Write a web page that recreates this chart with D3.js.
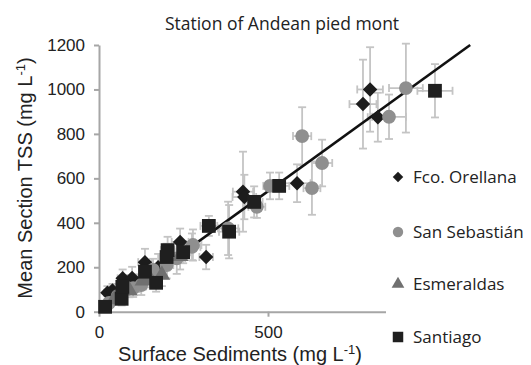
<!DOCTYPE html>
<html>
<head>
  <script src="https://d3js.org/d3.v7.min.js"></script>
  <style>
    body { margin: 0; background: #fff; }
    svg { display: block; }
  </style>
</head>
<body>
  <svg id="chart" width="531" height="365"></svg>
  <script>
    // data
    const seriesNames = ['Fco. Orellana', 'San Sebastián', 'Esmeraldas', 'Santiago'];

    const orellanaX    = [25, 40, 70, 98, 112, 136, 175, 240, 317, 426, 430, 586, 781, 802, 825];
    const orellanaY    = [85, 95, 150, 152, 128, 223, 200, 314, 246, 540, 516, 578, 934, 1000, 875];
    const orellanaXErr = [10, 10, 15, 15, 15, 20, 20, 25, 20, 30, 35, 40, 40, 38, 30];
    const orellanaYErr = [30, 30, 40, 50, 40, 60, 60, 60, 55, 180, 100, 85, 200, 190, 110];

    const sebastianX    = [30, 55, 101, 125, 160, 200, 230, 275, 278, 382, 467, 506, 601, 630, 660, 858, 908];
    const sebastianY    = [40, 70, 106, 120, 188, 210, 240, 292, 300, 375, 472, 566, 790, 556, 669, 877, 1006];
    const sebastianXErr = [10, 12, 15, 15, 20, 20, 25, 25, 25, 30, 25, 20, 27, 25, 30, 50, 50];
    const sebastianYErr = [25, 30, 40, 45, 50, 60, 70, 60, 70, 120, 50, 60, 130, 120, 105, 100, 200];

    const esmeraldasX    = [45, 90, 130, 150, 186, 240];
    const esmeraldasY    = [55, 95, 140, 150, 165, 250];
    const esmeraldasXErr = [10, 10, 15, 15, 15, 20];
    const esmeraldasYErr = [20, 30, 40, 40, 50, 60];

    const santiagoX    = [18, 67, 69, 136, 169, 200, 203, 249, 325, 385, 459, 533, 994];
    const santiagoY    = [22, 58, 112, 180, 130, 246, 277, 268, 386, 360, 494, 566, 994];
    const santiagoXErr = [8, 12, 12, 15, 15, 20, 20, 20, 25, 30, 25, 30, 52];
    const santiagoYErr = [15, 30, 40, 45, 40, 60, 60, 50, 45, 120, 70, 60, 120];

    // linear trendline
    const trendSlope = 1.1;
    const trendIntercept = -8;

    // the 1000 tick sits under the legend box in the original
    const xTicks = [0, 500];
    const yTicks = [0, 200, 400, 600, 800, 1000, 1200];

    const svg = d3.select('#chart');

    const x = d3.scaleLinear().domain([0, 1200]).range([99, 504.6]);
    const y = d3.scaleLinear().domain([0, 1200]).range([311.7, 45]);

    const series = [
      { name: seriesNames[0], xs: orellanaX, ys: orellanaY, xe: orellanaXErr, ye: orellanaYErr, shape: d3.symbolSquare, rot: 45, size: 105, color: '#1c1c1c', legendSize: 55 },
      { name: seriesNames[1], xs: sebastianX, ys: sebastianY, xe: sebastianXErr, ye: sebastianYErr, shape: d3.symbolCircle, rot: 0, size: 150, color: '#8f8f8f', legendSize: 85 },
      { name: seriesNames[2], xs: esmeraldasX, ys: esmeraldasY, xe: esmeraldasXErr, ye: esmeraldasYErr, shape: d3.symbolTriangle, rot: 0, size: 120, color: '#707070', legendSize: 70 },
      { name: seriesNames[3], xs: santiagoX, ys: santiagoY, xe: santiagoXErr, ye: santiagoYErr, shape: d3.symbolSquare, rot: 0, size: 190, color: '#1f1f1f', legendSize: 110 }
    ];

    // axes
    const yAxis = svg.append('g')
      .attr('transform', `translate(${x(0)},0)`)
      .call(d3.axisLeft(y).tickValues(yTicks).tickFormat(d3.format('d')).tickSize(5).tickSizeOuter(0).tickPadding(9));
    const xAxis = svg.append('g')
      .attr('transform', `translate(0,${y(0)})`)
      .call(d3.axisBottom(x).tickValues(xTicks).tickFormat(d3.format('d')).tickSize(5).tickSizeOuter(0).tickPadding(9));

    [xAxis, yAxis].forEach(a => {
      a.select('.domain').attr('stroke', '#a6a6a6').attr('stroke-width', 2);
      a.selectAll('.tick line').attr('stroke', '#a6a6a6').attr('stroke-width', 2);
      a.selectAll('.tick text')
        .attr('fill', '#222')
        .style('font-family', '"Liberation Sans", Arial, sans-serif')
        .style('font-size', '17px');
    });

    // error bars
    const cap = 4;
    series.forEach(s => {
      const g = svg.append('g').attr('stroke', '#c4c4c4').attr('stroke-width', 1.8);
      s.xs.forEach((xv, i) => {
        const yv = s.ys[i], xe = s.xe[i], ye = s.ye[i];
        g.append('line').attr('x1', x(xv)).attr('x2', x(xv)).attr('y1', y(yv - ye)).attr('y2', y(yv + ye));
        g.append('line').attr('x1', x(xv) - cap).attr('x2', x(xv) + cap).attr('y1', y(yv - ye)).attr('y2', y(yv - ye));
        g.append('line').attr('x1', x(xv) - cap).attr('x2', x(xv) + cap).attr('y1', y(yv + ye)).attr('y2', y(yv + ye));
        g.append('line').attr('x1', x(xv - xe)).attr('x2', x(xv + xe)).attr('y1', y(yv)).attr('y2', y(yv));
        g.append('line').attr('x1', x(xv - xe)).attr('x2', x(xv - xe)).attr('y1', y(yv) - cap).attr('y2', y(yv) + cap);
        g.append('line').attr('x1', x(xv + xe)).attr('x2', x(xv + xe)).attr('y1', y(yv) - cap).attr('y2', y(yv) + cap);
      });
    });

    // trendline
    const tx0 = 8;
    const tx1 = (1200 - trendIntercept) / trendSlope;
    svg.append('line')
      .attr('x1', x(tx0)).attr('y1', y(trendSlope * tx0 + trendIntercept))
      .attr('x2', x(tx1)).attr('y2', y(trendSlope * tx1 + trendIntercept))
      .attr('stroke', '#111').attr('stroke-width', 2.6);

    // markers
    series.forEach(s => {
      svg.append('g').selectAll('path')
        .data(s.xs.map((xv, i) => [xv, s.ys[i]]))
        .enter()
        .append('path')
        .attr('d', d3.symbol().type(s.shape).size(s.size))
        .attr('transform', d => `translate(${x(d[0])},${y(d[1])}) rotate(${s.rot})`)
        .attr('fill', s.color);
    });

    // legend (white box covers the end of the x axis, like the original)
    svg.append('rect')
      .attr('x', 386).attr('y', 152).attr('width', 145).attr('height', 213)
      .attr('fill', '#fff');

    const legendRows = [177, 232, 284, 337];
    series.forEach((s, i) => {
      svg.append('path')
        .attr('d', d3.symbol().type(s.shape).size(s.legendSize))
        .attr('transform', `translate(398,${legendRows[i]}) rotate(${s.rot})`)
        .attr('fill', s.color);
      svg.append('text')
        .attr('x', 413).attr('y', legendRows[i] + 6)
        .attr('fill', '#222')
        .style('font-family', '"Open Sans", sans-serif')
        .style('font-size', '17px')
        .text(s.name);
    });

    // titles
    svg.append('text')
      .attr('x', 282).attr('y', 30)
      .attr('text-anchor', 'middle')
      .attr('fill', '#222')
      .style('font-family', '"Open Sans", sans-serif')
      .style('font-size', '17.5px')
      .text('Station of Andean pied mont');

    const xTitle = svg.append('text')
      .attr('x', 240).attr('y', 361)
      .attr('text-anchor', 'middle')
      .attr('fill', '#222')
      .style('font-family', '"Liberation Sans", Arial, sans-serif')
      .style('font-size', '20px');
    xTitle.append('tspan').text('Surface Sediments (mg L');
    xTitle.append('tspan').attr('dy', -7).style('font-size', '13px').text('-1');
    xTitle.append('tspan').attr('dy', 7).text(')');

    const yTitle = svg.append('text')
      .attr('transform', 'translate(32,178) rotate(-90)')
      .attr('text-anchor', 'middle')
      .attr('fill', '#222')
      .style('font-family', '"Liberation Sans", Arial, sans-serif')
      .style('font-size', '20px');
    yTitle.append('tspan').text('Mean Section TSS (mg L');
    yTitle.append('tspan').attr('dy', -7).style('font-size', '13px').text('-1');
    yTitle.append('tspan').attr('dy', 7).text(')');
  </script>
</body>
</html>
